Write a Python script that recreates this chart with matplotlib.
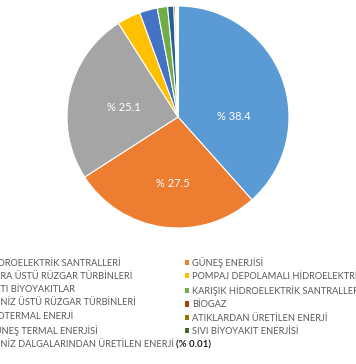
import matplotlib.pyplot as plt
import numpy as np
from matplotlib.patches import Patch

plt.rcParams['font.family'] = ['Lato', 'DejaVu Sans']

labels = [
    "HİDROELEKTRİK SANTRALLERİ",
    "GÜNEŞ ENERJİSİ",
    "KARA ÜSTÜ RÜZGAR TÜRBİNLERİ",
    "POMPAJ DEPOLAMALI HİDROELEKTRİK",
    "KATI BİYOYAKITLAR",
    "KARIŞIK HİDROELEKTRİK SANTRALLERİ",
    "DENİZ ÜSTÜ RÜZGAR TÜRBİNLERİ",
    "BİOGAZ",
    "JEOTERMAL ENERJİ",
    "ATIKLARDAN ÜRETİLEN ENERJİ",
    "GÜNEŞ TERMAL ENERJİSİ",
    "SIVI BİYOYAKIT ENERJİSİ",
    "DENİZ DALGALARINDAN ÜRETİLEN ENERJİ",
]
shares = [38.4, 27.5, 25.1, 3.4, 2.6, 1.5, 0.9, 0.25, 0.1, 0.15, 0.05, 0.04, 0.01]
colors = ["#5B9BD5", "#ED7D31", "#A5A5A5", "#FFC000", "#4472C4", "#70AD47",
          "#255E91", "#9E480E", "#636363", "#997300", "#264478", "#43682B",
          "#7CAFDD"]
# where the three big percentage labels sit (pie units)
label_xy = [(0.50, 0.0), (-0.05, -0.60), (-0.49, 0.09)]

fig = plt.figure(figsize=(3.56, 3.64), dpi=100)
r_px = 111
ax = fig.add_axes([(178 - r_px) / 356, (364 - 117 - r_px) / 364,
                   2 * r_px / 356, 2 * r_px / 364])
wedges, _ = ax.pie(shares, colors=colors, startangle=90, counterclock=False,
                   wedgeprops=dict(edgecolor="white", linewidth=0.8))
ax.set_xlim(-1, 1); ax.set_ylim(-1, 1)

for i, (lx, ly) in enumerate(label_xy):
    ax.text(lx, ly, "% " + str(shares[i]), color="white", fontsize=8,
            ha="center", va="center")

# legend: Excel fills rows, matplotlib fills columns
order = list(range(0, 13, 2)) + list(range(1, 13, 2))
handles = [Patch(facecolor=colors[i], edgecolor="none") for i in order]
leg = fig.legend(handles, [labels[i] for i in order], ncol=2,
                 loc="upper left", bbox_to_anchor=(-24 / 356, 1 - 252 / 364),
                 frameon=False, fontsize=6.7, labelcolor="#595959",
                 handlelength=0.5, handleheight=0.5, handletextpad=0.3,
                 labelspacing=0.46, columnspacing=1.15, borderpad=0)

fig.canvas.draw()
last = leg.get_texts()[6]
bb = last.get_window_extent()
fig.text((bb.x1 + 2) / 356, (bb.y0 + bb.y1) / 2 / 364, "(% 0.01)",
         fontsize=7, color="#262626", fontweight="bold", va="center")

fig.savefig("out.png", dpi=100)
